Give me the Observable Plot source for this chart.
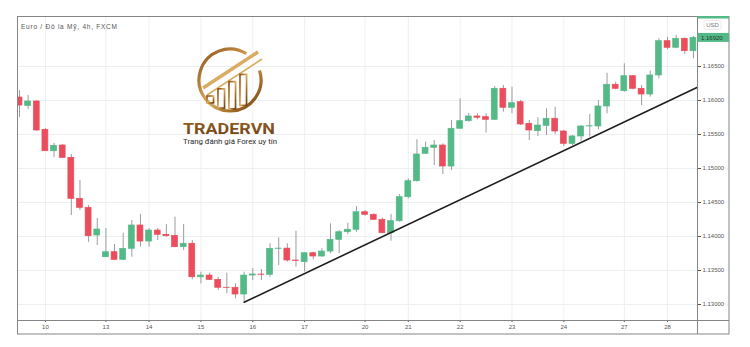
<!DOCTYPE html>
<html><head><meta charset="utf-8">
<script src="https://cdn.jsdelivr.net/npm/d3@7"></script>
<script src="https://cdn.jsdelivr.net/npm/@observablehq/plot@0.6"></script>
<style>body{margin:0;background:#fff;} #chart{width:750px;height:347px;}</style>
</head><body><div id="chart"></div>
<script>
const title = "Euro / Đô la Mỹ, 4h, FXCM";
const brand = "TRADERVN";
const slogan = "Trang đánh giá Forex uy tín";
const currency = "USD";

const opens  = [1.16044,1.15919,1.15985,1.15569,1.15254,1.15338,1.15157,1.14554,1.14422,1.14015,
                1.13696,1.13769,1.13657,1.13819,1.14162,1.13926,1.14088,1.14025,1.14010,1.13843,
                1.13893,1.13401,1.13426,1.13363,1.13246,1.13246,1.13147,1.13426,1.13441,1.13437,
                1.13819,1.13822,1.13647,1.13622,1.13754,1.13706,1.13779,1.13951,1.14063,1.14099,
                1.14357,1.14319,1.14246,1.14049,1.14225,1.14578,1.14813,1.15216,1.15304,1.15338,
                1.15029,1.15584,1.15696,1.15765,1.15755,1.15716,1.16172,1.15893,1.15975,1.15657,
                1.15549,1.15627,1.15731,1.15544,1.15363,1.15471,1.15618,1.15618,1.15912,1.16231,
                1.16137,1.16357,1.16172,1.16088,1.16368,1.16872,1.16775,1.16907,1.16725];
const highs  = [1.16147,1.16074,1.16000,1.15588,1.15368,1.15353,1.15206,1.14824,1.14456,1.14265,
                1.14118,1.13882,1.14049,1.14235,1.14324,1.14118,1.14118,1.14176,1.14284,1.14176,
                1.13941,1.13475,1.13460,1.13401,1.13460,1.13304,1.13475,1.13529,1.13515,1.13893,
                1.13981,1.13893,1.14078,1.13760,1.13769,1.13819,1.14187,1.14088,1.14196,1.14441,
                1.14382,1.14334,1.14270,1.14324,1.14618,1.14849,1.15422,1.15387,1.15412,1.15363,
                1.15706,1.16025,1.15809,1.15804,1.15804,1.16206,1.16221,1.16196,1.16000,1.15706,
                1.15746,1.15878,1.15901,1.15559,1.15485,1.15632,1.15794,1.16000,1.16401,1.16269,
                1.16540,1.16368,1.16221,1.16431,1.16907,1.16931,1.16956,1.16921,1.16941];
const lows   = [1.15750,1.15868,1.15544,1.15250,1.15162,1.15147,1.14309,1.14382,1.13916,1.13868,
                1.13691,1.13647,1.13647,1.13696,1.13843,1.13843,1.13941,1.13990,1.13834,1.13794,
                1.13363,1.13304,1.13353,1.13206,1.13157,1.13084,1.13034,1.13353,1.13353,1.13401,
                1.13574,1.13622,1.13549,1.13475,1.13657,1.13696,1.13746,1.13746,1.14029,1.14063,
                1.14300,1.14235,1.14040,1.13931,1.14210,1.14554,1.14799,1.15206,1.15044,1.14912,
                1.14971,1.15574,1.15682,1.15716,1.15519,1.15706,1.15828,1.15804,1.15632,1.15412,
                1.15471,1.15485,1.15500,1.15324,1.15338,1.15402,1.15460,1.15569,1.15804,1.16157,
                1.16122,1.16157,1.15926,1.16049,1.16319,1.16746,1.16760,1.16676,1.16613];
const closes = [1.15926,1.15985,1.15559,1.15254,1.15334,1.15157,1.14554,1.14422,1.14004,1.14103,
                1.13769,1.13657,1.13819,1.14162,1.13926,1.14088,1.14025,1.14004,1.13843,1.13893,
                1.13401,1.13426,1.13363,1.13246,1.13243,1.13147,1.13426,1.13441,1.13437,1.13819,
                1.13822,1.13647,1.13640,1.13754,1.13706,1.13779,1.13951,1.14063,1.14099,1.14357,
                1.14319,1.14246,1.14049,1.14225,1.14578,1.14813,1.15206,1.15304,1.15338,1.15029,
                1.15584,1.15696,1.15765,1.15746,1.15716,1.16172,1.15893,1.15960,1.15647,1.15559,
                1.15632,1.15731,1.15544,1.15363,1.15471,1.15618,1.15622,1.15912,1.16231,1.16172,
                1.16357,1.16172,1.16088,1.16368,1.16872,1.16775,1.16907,1.16725,1.16920];

const dayLabels = ["10","13","14","15","16","17","20","21","22","23","24","27","28"];
const dayIndex  = [3,10,15,21,27,33,40,45,51,57,63,70,75];
const priceTicks = [1.130,1.135,1.140,1.145,1.150,1.155,1.160,1.165];
const lastPrice = 1.16920;
const trendIndex = [26, 78.47];
const trendPrice = [1.13034, 1.16195];

const green = "#53b987", red = "#eb4d5c";
const candles = opens.map((o, i) => ({i, open: o, high: highs[i], low: lows[i], close: closes[i]}));
const trend = trendIndex.map((x, k) => ({x, y: trendPrice[k]}));

const plot = Plot.plot({
  width: 750, height: 347,
  marginLeft: 17, marginRight: 53, marginTop: 16, marginBottom: 27,
  style: {fontFamily: "Liberation Sans, Arial, sans-serif", fontSize: "6px", color: "#555", background: "#fff"},
  x: {domain: [-0.23, 78.47], ticks: dayIndex, tickFormat: d => dayLabels[dayIndex.indexOf(d)], tickSize: 2, tickPadding: 2, label: null},
  y: {domain: [1.12765, 1.17235], axis: "right", ticks: priceTicks, tickFormat: d => d.toFixed(5), tickSize: 3, tickPadding: 2, label: null},
  marks: [
    Plot.ruleY(priceTicks, {stroke: "#edf0f3", strokeOpacity: 1}),
    Plot.ruleX(dayIndex, {stroke: "#edf0f3", strokeOpacity: 1}),
    Plot.ruleX(candles, {x: "i", y1: "low", y2: "high", stroke: "#9c9c9c", strokeWidth: 1, clip: true}),
    Plot.rectY(candles, {x1: d => d.i - 0.34, x2: d => d.i + 0.34, y1: "open", y2: "close",
      fill: d => d.close >= d.open ? green : red, stroke: d => d.close >= d.open ? green : red, strokeWidth: 0.7, clip: true}),
    Plot.line(trend, {x: "x", y: "y", stroke: "#1e1e1e", strokeWidth: 1.6})
  ]
});
document.getElementById("chart").appendChild(plot);

const svg = d3.select(plot);
const sy = plot.scale("y");
const F = "Liberation Sans, Arial, sans-serif";

// frame
const frame = svg.append("g").attr("fill", "none").attr("stroke", "#858585").attr("stroke-width", 1);
frame.append("rect").attr("x", 17.5).attr("y", 16.5).attr("width", 711.5).attr("height", 317.5);
frame.append("line").attr("x1", 697.5).attr("x2", 697.5).attr("y1", 16).attr("y2", 334);
frame.append("line").attr("x1", 17).attr("x2", 729).attr("y1", 320.5).attr("y2", 320.5);

// title
svg.append("text").attr("x", 21).attr("y", 28.5).attr("text-anchor", "start").attr("font-size", 6.5).attr("fill", "#555")
  .attr("font-family", F).attr("textLength", 96).attr("lengthAdjust", "spacing").text(title);

// currency + price tag
svg.append("rect").attr("x", 697.5).attr("y", 16).attr("width", 31.5).attr("height", 2.5).attr("fill", green);
svg.append("rect").attr("x", 704).attr("y", 20.5).attr("width", 17).attr("height", 9).attr("rx", 2)
  .attr("fill", "#fff").attr("stroke", "#ddd").attr("stroke-width", 0.6);
svg.append("text").attr("x", 712.5).attr("y", 27.3).attr("text-anchor", "middle").attr("font-size", 6)
  .attr("fill", "#777").attr("font-family", F).text(currency);
const py = sy.apply(lastPrice);
svg.append("rect").attr("x", 697.5).attr("y", py - 4.5).attr("width", 31.5).attr("height", 9).attr("fill", green);
svg.append("text").attr("x", 701).attr("y", py + 2.2).attr("text-anchor", "start").attr("font-size", 6).attr("fill", "#1d3b2c")
  .attr("font-family", F).text(lastPrice.toFixed(5));

// logo
const defs = svg.append("defs");
const g1 = defs.append("linearGradient").attr("id", "gold").attr("x1", "0").attr("y1", "0").attr("x2", "1").attr("y2", "1");
[[0, "#8a5520"], [0.3, "#b9813a"], [0.5, "#dcae62"], [0.75, "#a56d28"], [1, "#6e4214"]]
  .forEach(([o, c]) => g1.append("stop").attr("offset", o).attr("stop-color", c));
const g2 = defs.append("linearGradient").attr("id", "goldText").attr("x1", "0").attr("y1", "0").attr("x2", "0").attr("y2", "1");
[[0, "#9a6424"], [1, "#6a3e12"]].forEach(([o, c]) => g2.append("stop").attr("offset", o).attr("stop-color", c));

const logo = svg.append("g").attr("fill", "none").attr("stroke", "url(#gold)");
const cx = 230, cy = 80, r = 31;
const pt = a => [cx + r * Math.cos(a * Math.PI / 180), cy + r * Math.sin(a * Math.PI / 180)];
const [sx1, sy1] = pt(-18), [ex1, ey1] = pt(-58);
logo.append("path").attr("stroke-width", 3.2).attr("d", `M${sx1},${sy1} A${r},${r} 0 1 1 ${ex1},${ey1}`);
logo.append("path").attr("stroke-width", 3.4).attr("d", "M203,88 L258,52");
logo.append("path").attr("stroke-width", 1.6).attr("d", "M207,95 L262,59");
[[207, 9], [218, 9], [229, 9], [240, 9]].forEach(([x, w]) => {
  const top = 95 - (x + w / 2 - 207) * 0.655 + 4;
  const bot = cy + Math.sqrt(r * r - Math.pow(x + w / 2 - cx, 2)) - 2;
  logo.append("rect").attr("x", x).attr("y", top).attr("width", w - 2.5).attr("height", Math.max(0, bot - top)).attr("stroke-width", 1.7);
});
svg.append("text").attr("x", 229).attr("y", 133.5).attr("text-anchor", "middle").attr("font-size", 15.5)
  .attr("font-weight", 700).attr("font-family", "Roboto, Liberation Sans, sans-serif")
  .attr("fill", "url(#goldText)").attr("textLength", 92).attr("lengthAdjust", "spacingAndGlyphs").text(brand);
svg.append("text").attr("x", 230).attr("y", 144).attr("text-anchor", "middle").attr("font-size", 7.2)
  .attr("font-family", "Roboto, Liberation Sans, sans-serif").attr("fill", "#2a2a2a")
  .attr("textLength", 94).attr("lengthAdjust", "spacingAndGlyphs").text(slogan);
</script></body></html>
